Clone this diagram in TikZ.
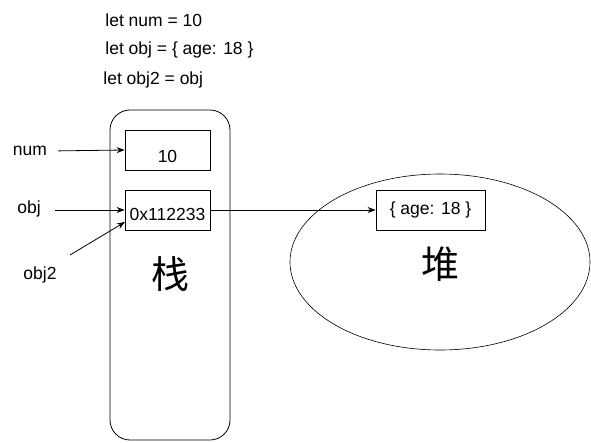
\documentclass[tikz,border=0pt]{standalone}
\usepackage{fontspec}
\setmainfont{Liberation Sans}
\newfontfamily\cjk{Noto Sans CJK SC}
\usetikzlibrary{arrows.meta,positioning,shapes.geometric}
\tikzset{font=\fontsize{17.5}{20}\selectfont}
\tikzset{every node/.append style={inner sep=2pt}}
\tikzset{cell/.style={draw, minimum width=85pt, minimum height=40pt, inner sep=0pt}}
\tikzset{ptr/.style={-{Stealth[length=8pt,width=6pt]}, line width=0.8pt}}
\tikzset{bigchar/.style={font=\cjk\fontsize{38}{40}\selectfont}}

\begin{document}
\begin{tikzpicture}[x=1pt,y=-1pt,line width=0.8pt]
\useasboundingbox (0,0) rectangle (591,442);
% code lines
\node[anchor=west] (l1) at (103,20) {let num = 10};
\node[anchor=west] (l2) at (103,50) {let obj = \{ age: 18 \}};
\node[anchor=west] (l3) at (101,80) {let obj2 = obj};

% stack
\draw[rounded corners=20pt] (110,110) rectangle (230,440);
\node[cell] (v10) at (167.5,150) {\raisebox{-12pt}[0pt][0pt]{10}};
\node[cell] (addr) at (167.5,210) {\raisebox{-10pt}[0pt][0pt]{0x112233}};
\node[bigchar] (zhan) at (170,274) {栈};

% heap
\node[draw, ellipse, minimum width=300pt, minimum height=176pt, line width=0.6pt] (heap) at (440,262) {};
\node[draw, minimum width=109pt, minimum height=40pt, inner sep=0pt] (val) at (430.5,210) {\{ age: 18 \}};
\node[bigchar] (dui) at (440,264) {堆};

% variables
\node (num) at (30,151) {num};
\node (obj) at (29,209) {obj};
\node (obj2) at (40,275) {obj2};
\coordinate (obj2s) at (70,255);
\coordinate (addrin) at (125,222);

\draw[ptr, shorten <=9pt] (num.east) -- (v10.west);
\draw[ptr, shorten <=12pt] (obj.east |- addr.west) -- (addr.west);
\draw[ptr] (obj2s) -- (addrin);
\draw[ptr] (addr.east) -- (val.west);
\end{tikzpicture}
\end{document}
